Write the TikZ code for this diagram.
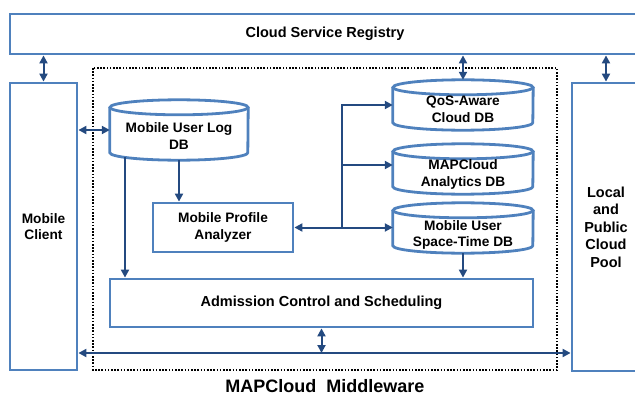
\documentclass[tikz,border=0pt]{standalone}
\usepackage{fontspec}
\setmainfont{Liberation Sans}
\usetikzlibrary{arrows.meta}
\definecolor{boxblue}{RGB}{79,129,189}
\definecolor{arrblue}{RGB}{36,74,128}

% cylinder outline around an (invisible) node: #1 node name, #2 half width
\newcommand\dbshape[2]{%
  \draw[boxline] ([yshift=-7.5pt]#1.north) ellipse [x radius=#2, y radius=7.5pt];
  \draw[boxline] ([yshift=-7.5pt]#1.north west) -- ([yshift=7.5pt]#1.south west)
    arc[start angle=180, end angle=360, x radius=#2, y radius=7.5pt]
    -- ([yshift=-7.5pt]#1.north east);
}

\begin{document}
\begin{tikzpicture}[x=1pt,y=-1pt,
  boxline/.style={draw=boxblue, line width=2.8pt},
  box/.style={boxline, fill=white, align=center, inner sep=0pt},
  dbarea/.style={inner sep=0pt, draw=none},
  lbl/.style={align=center, inner sep=0pt, font=\fontsize{13.7}{16.5}\selectfont\bfseries},
  biglbl/.style={align=center, inner sep=0pt, font=\fontsize{14.5}{17.5}\selectfont\bfseries},
  link/.style={draw=arrblue, line width=2pt},
  arr/.style={link, -{Triangle[length=8pt,width=8pt]}},
  biarr/.style={link, {Triangle[length=8pt,width=8pt]}-{Triangle[length=8pt,width=8pt]}},
]
\useasboundingbox (0,0) rectangle (635,396);

% outer boxes
\node[box, biglbl, minimum width=630pt, minimum height=40pt] (reg) at (325,34) {Cloud Service Registry};
\node[box, lbl, minimum width=67pt, minimum height=287pt] (client) at (43.5,226.5) {Mobile\\Client};
\node[box, biglbl, minimum width=68pt, minimum height=288pt] (pool) at (606,227) {Local\\and\\Public\\Cloud\\Pool};

% middleware frame
\draw[black, line width=1.6pt, dash pattern=on 1.6pt off 1.6pt] (93,68) rectangle (557,370);
\node[inner sep=0pt, font=\fontsize{18}{20}\selectfont\bfseries] (mwlabel) at (325,386.5) {MAPCloud~~Middleware};

% databases
\node[dbarea, minimum width=138pt, minimum height=60pt] (log) at (179,130) {};
\dbshape{log}{69pt}
\node[lbl] (logtxt) at (179,136) {Mobile User Log\\DB};

\node[dbarea, minimum width=140pt, minimum height=50pt] (qos) at (463,105) {};
\dbshape{qos}{70pt}
\node[lbl] (qostxt) at (463,109.5) {QoS-Aware\\Cloud DB};

\node[dbarea, minimum width=140pt, minimum height=50pt] (ana) at (463,169) {};
\dbshape{ana}{70pt}
\node[lbl] (anatxt) at (463,174.5) {MAPCloud\\Analytics DB};

\node[dbarea, minimum width=140pt, minimum height=50pt] (stdb) at (463,228) {};
\dbshape{stdb}{70pt}
\node[lbl] (stdbtxt) at (463,235) {Mobile User\\Space-Time DB};

% processing blocks
\node[box, lbl, minimum width=140pt, minimum height=49pt] (mpa) at (223,227.5) {Mobile Profile\\Analyzer};
\node[box, biglbl, minimum width=423pt, minimum height=48pt] (adm) at (321.5,303) {Admission Control and Scheduling};

% connectors
\draw[biarr] (client.north) -- (client.north |- reg.south);
\draw[biarr] (qos.north) -- (qos.north |- reg.south);
\draw[biarr] (pool.north) -- (pool.north |- reg.south);
\draw[biarr] (log.west) -- (log.west -| client.east);
\draw[arr] (log.south) -- (log.south |- mpa.north);
\coordinate (lcut) at ([xshift=-54pt,yshift=3pt]log.south);
\draw[arr] (lcut) -- (lcut |- adm.north);

\coordinate (bus) at (342,228);
\draw[biarr] (mpa.east) -- (mpa.east -| stdb.west);
\draw[arr] (bus |- mpa.east) |- (qos.west);
\coordinate (anain) at ([yshift=4pt]ana.west);
\draw[arr] (bus |- anain) -- (anain);
\draw[arr] (stdb.south) -- (stdb.south |- adm.north);

\coordinate (bot) at (321,353);
\draw[biarr] (bot -| client.east) -- (bot -| pool.west);
\draw[biarr] (adm.south) -- (adm.south |- bot);
\end{tikzpicture}
\end{document}
